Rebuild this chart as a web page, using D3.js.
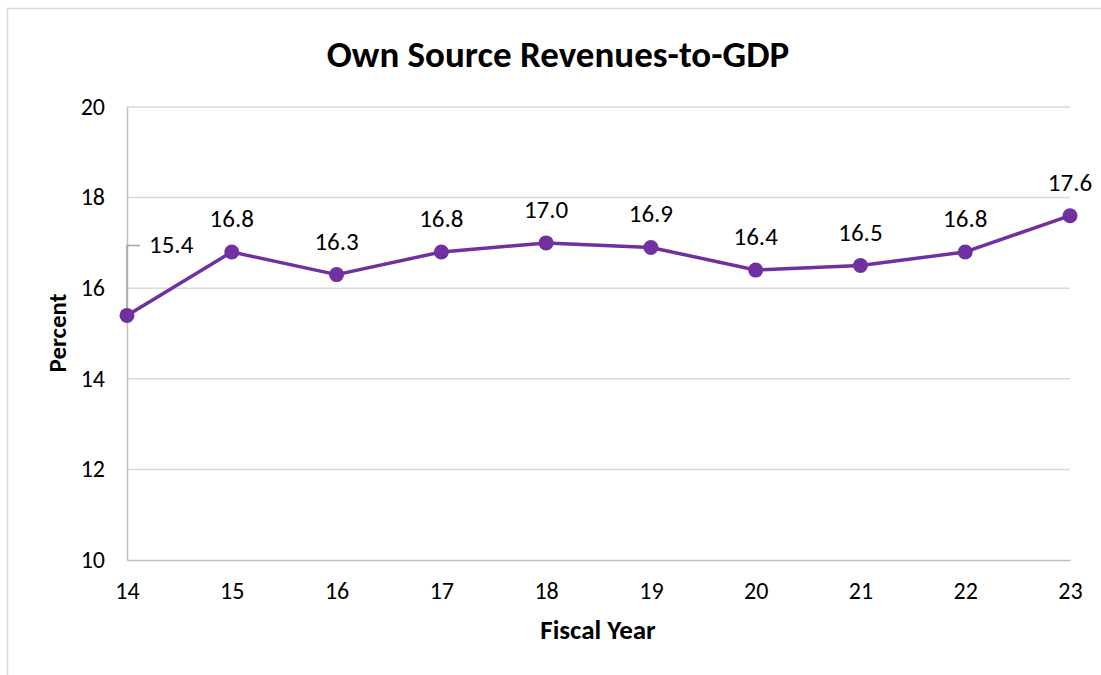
<!DOCTYPE html>
<html>
<head>
<meta charset="utf-8">
<script src="https://cdn.jsdelivr.net/npm/d3@7"></script>
<style>
  html, body { margin: 0; padding: 0; background: #fff; }
  svg { display: block; font-family: Carlito, Calibri, "Open Sans", "Liberation Sans", sans-serif; }
</style>
</head>
<body>
<svg id="chart" width="1101" height="675"></svg>
<script>
// Fiscal years and own source revenues as a share of GDP (percent)
const years = ["14", "15", "16", "17", "18", "19", "20", "21", "22", "23"];
const values = [15.4, 16.8, 16.3, 16.8, 17.0, 16.9, 16.4, 16.5, 16.8, 17.6];
const yTicks = [10, 12, 14, 16, 18, 20];

(function draw() {
  const svg = d3.select("#chart");
  const plotLeft = 127, plotRight = 1070, plotTop = 107, plotBottom = 560;
  const purple = "#7030A0";

  // outer chart frame
  svg.append("rect")
    .attr("x", 7.5).attr("y", 8.5).attr("width", 1110).attr("height", 700)
    .attr("fill", "#fff").attr("stroke", "#d9d9d9").attr("stroke-width", 1.5);

  const x = d3.scalePoint().domain(years).range([plotLeft, plotRight]);
  const y = d3.scaleLinear().domain([10, 20]).range([plotBottom, plotTop]);

  // horizontal gridlines
  svg.append("g").selectAll("line")
    .data(yTicks.filter(t => t !== 10))
    .join("line")
    .attr("x1", plotLeft).attr("x2", plotRight)
    .attr("y1", d => y(d)).attr("y2", d => y(d))
    .attr("stroke", "#d9d9d9").attr("stroke-width", 1.5);

  // y axis
  const yAxis = svg.append("g")
    .attr("transform", `translate(${plotLeft},0)`)
    .call(d3.axisLeft(y).tickValues(yTicks).tickSize(0).tickPadding(22))
    .attr("font-family", null).attr("font-size", 24);
  yAxis.select(".domain").attr("stroke", "#bfbfbf").attr("stroke-width", 1.5);
  yAxis.selectAll("text").attr("fill", "#000").attr("dy", "0.3em");

  // x axis
  const xAxis = svg.append("g")
    .attr("transform", `translate(0,${plotBottom})`)
    .call(d3.axisBottom(x).tickSize(0).tickPadding(22))
    .attr("font-family", null).attr("font-size", 24);
  xAxis.select(".domain").attr("stroke", "#bfbfbf").attr("stroke-width", 1.5);
  xAxis.selectAll("text").attr("fill", "#000");

  // title and axis titles
  svg.append("text")
    .attr("x", 558).attr("y", 67).attr("text-anchor", "middle")
    .attr("font-size", 37).attr("font-weight", "bold").attr("fill", "#000")
    .text("Own Source Revenues-to-GDP");

  svg.append("text")
    .attr("transform", `translate(66,333) rotate(-90)`)
    .attr("text-anchor", "middle")
    .attr("font-size", 25).attr("font-weight", "bold").attr("fill", "#000")
    .text("Percent");

  svg.append("text")
    .attr("x", 598).attr("y", 639).attr("text-anchor", "middle")
    .attr("font-size", 27).attr("font-weight", "bold").attr("fill", "#000")
    .text("Fiscal Year");

  const pts = years.map((yr, i) => ({ yr, v: values[i] }));

  // series line
  svg.append("path")
    .datum(pts)
    .attr("fill", "none").attr("stroke", purple).attr("stroke-width", 3.5)
    .attr("stroke-linejoin", "round")
    .attr("d", d3.line().x(d => x(d.yr)).y(d => y(d.v)));

  // leader line for the first label, which sits off to the side
  const p0 = pts[0];
  const leadY = y(p0.v) - 70;
  svg.append("path")
    .attr("d", `M${x(p0.yr)},${y(p0.v)}V${leadY}H${x(p0.yr) + 13}`)
    .attr("fill", "none").attr("stroke", "#a6a6a6").attr("stroke-width", 1.5);

  // markers
  svg.append("g").selectAll("circle")
    .data(pts)
    .join("circle")
    .attr("cx", d => x(d.yr)).attr("cy", d => y(d.v)).attr("r", 7.5)
    .attr("fill", purple);

  // data labels
  svg.append("g").selectAll("text")
    .data(pts)
    .join("text")
    .attr("x", (d, i) => i === 0 ? x(d.yr) + 22 : x(d.yr))
    .attr("y", (d, i) => i === 0 ? leadY + 8 : y(d.v) - 25)
    .attr("text-anchor", (d, i) => i === 0 ? "start" : "middle")
    .attr("font-size", 25).attr("fill", "#000")
    .text(d => d.v.toFixed(1));
})();
</script>
</body>
</html>
